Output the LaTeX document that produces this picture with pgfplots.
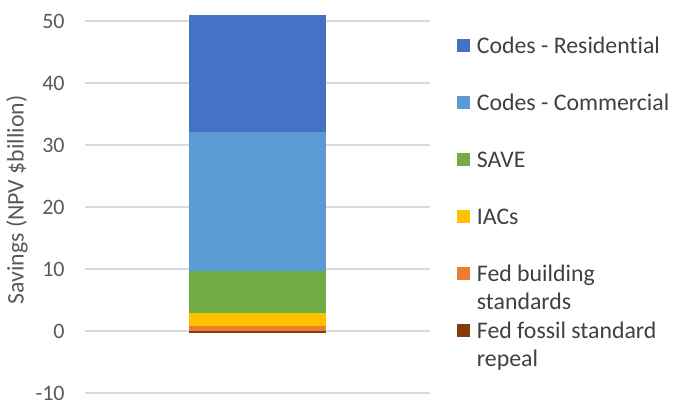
\documentclass[border=0pt]{standalone}
\usepackage{pgfplots}
\pgfplotsset{compat=1.18}
\usepackage{fontspec}
\setmainfont{Carlito}[Ligatures=NoCommon]
\definecolor{cRes}{HTML}{4472C4}
\definecolor{cCom}{HTML}{5B9BD5}
\definecolor{cSave}{HTML}{70AD47}
\definecolor{cIAC}{HTML}{FFC000}
\definecolor{cFed}{HTML}{ED7D31}
\definecolor{cFos}{HTML}{843C0C}
\definecolor{tickgray}{HTML}{595959}
\definecolor{leggray}{HTML}{404040}
\definecolor{gridgray}{HTML}{D9D9D9}
\newcommand\LE[1]{\raisebox{0pt}[9.5pt][2pt]{\begin{tabular}[t]{@{}l@{}}#1\end{tabular}}}
\begin{document}
\begin{tikzpicture}
\begin{axis}[
  at={(0,0)}, anchor=south west,
  scale only axis, width=172.5pt, height=196.5pt,
  xmin=-1, xmax=1, ymin=-10, ymax=53.4,
  ybar stacked, bar width=68.5pt,
  xtick=\empty, ytick={-10,0,10,20,30,40,50},
  ymajorgrids, grid style={gridgray, line width=0.6pt},
  axis line style={draw=none}, major tick length=0pt,
  /pgf/number format/assume math mode=true,
  yticklabel style={font=\fontsize{11}{13}\selectfont, text=tickgray, anchor=east, inner sep=0pt, xshift=-10pt},
  every axis y label/.style={at={(axis description cs:-0.197,0.491)}, rotate=90, anchor=center, font=\fontsize{11.9}{14.3}\selectfont, text=tickgray},
  ylabel={Savings (NPV \$billion)},
  clip=false,
  reverse legend,
  legend style={at={(axis description cs:1.078,0.9122)}, anchor=north west, draw=none, fill=none, inner sep=0pt, outer sep=0pt,
    font=\fontsize{11.9}{14.2}\selectfont, text=leggray, row sep=17.5pt, column sep=3.5pt,
    nodes={inner sep=0pt, outer sep=0pt}},
  legend cell align=left,
  legend image code/.code={\fill[#1] (0pt,-3.25pt) rectangle (6.5pt,3.25pt);},
]
\addplot[fill=cFos, draw=none, stack plots=false] coordinates {(0,-0.3)};
\addlegendentry{\LE{Fed fossil standard\\repeal}}
\addplot[fill=cFed, draw=none] coordinates {(0,0.85)};
\addlegendentry{\LE{Fed building\\standards}}
\addplot[fill=cIAC, draw=none] coordinates {(0,2.1)};
\addlegendentry{\LE{IACs}}
\addplot[fill=cSave, draw=none] coordinates {(0,6.75)};
\addlegendentry{\LE{SAVE}}
\addplot[fill=cCom, draw=none] coordinates {(0,22.4)};
\addlegendentry{\LE{Codes - Commercial}}
\addplot[fill=cRes, draw=none] coordinates {(0,18.9)};
\addlegendentry{\LE{Codes - Residential}}
\end{axis}
\pgfresetboundingbox
\useasboundingbox (-42.5pt,-3.5pt) rectangle (294pt,196.5pt);
\end{tikzpicture}
\end{document}
